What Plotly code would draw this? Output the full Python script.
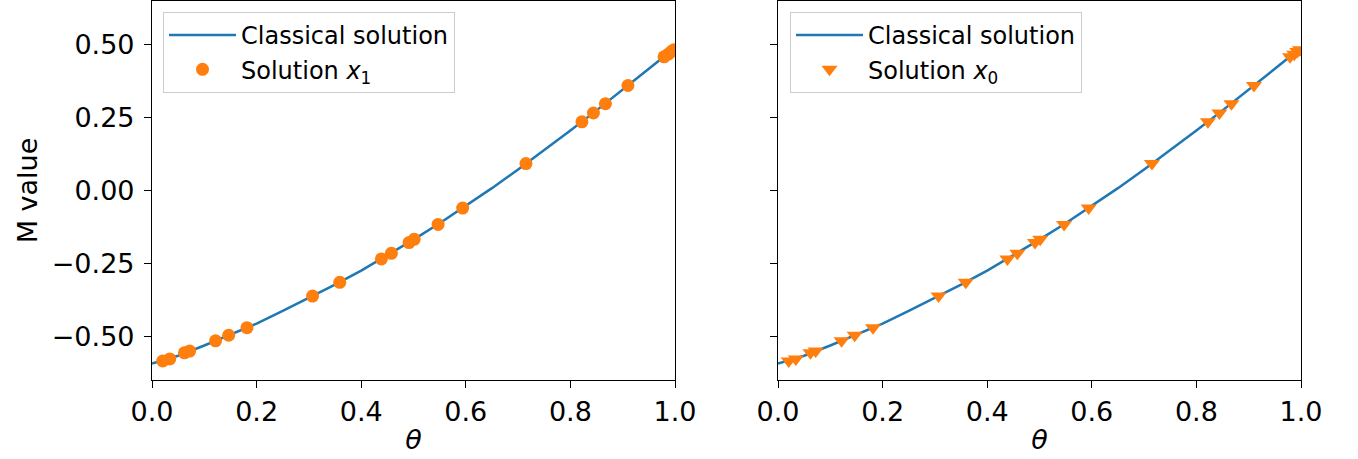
import plotly.graph_objects as go

# Classical solution curve
theta_curve = [0.00, 0.05, 0.10, 0.15, 0.20, 0.25, 0.30, 0.35, 0.40, 0.45, 0.50,
               0.55, 0.60, 0.65, 0.70, 0.75, 0.80, 0.85, 0.90, 0.95, 1.00]
m_curve = [-0.592, -0.565, -0.530, -0.492, -0.455, -0.412, -0.367, -0.322, -0.274,
           -0.222, -0.168, -0.112, -0.053, 0.008, 0.072, 0.137, 0.205, 0.274,
           0.344, 0.416, 0.488]

# Solution x1 (left panel)
theta_x1 = [0.0205, 0.034, 0.062, 0.072, 0.1215, 0.1466, 0.1816, 0.307, 0.359,
            0.4386, 0.4577, 0.4914, 0.5013, 0.547, 0.594, 0.715, 0.822, 0.844,
            0.867, 0.910, 0.979, 0.987, 0.993, 0.998]
m_x1 = [-0.583, -0.576, -0.555, -0.549, -0.514, -0.495, -0.469, -0.361, -0.314,
        -0.234, -0.215, -0.178, -0.167, -0.116, -0.060, 0.092, 0.235, 0.265,
        0.297, 0.359, 0.457, 0.466, 0.475, 0.481]

# Solution x0 (right panel)
theta_x0 = [0.0205, 0.034, 0.062, 0.072, 0.1215, 0.1466, 0.1816, 0.307, 0.359,
            0.4386, 0.4577, 0.4914, 0.5013, 0.547, 0.594, 0.715, 0.822, 0.844,
            0.867, 0.910, 0.979, 0.987, 0.993, 0.998]
m_x0 = [-0.583, -0.576, -0.555, -0.549, -0.514, -0.495, -0.469, -0.361, -0.314,
        -0.234, -0.215, -0.178, -0.167, -0.116, -0.060, 0.092, 0.235, 0.265,
        0.297, 0.359, 0.457, 0.466, 0.475, 0.481]

x_ticks = [0.0, 0.2, 0.4, 0.6, 0.8, 1.0]
x_ticklabels = ["0.0", "0.2", "0.4", "0.6", "0.8", "1.0"]
y_ticks = [-0.50, -0.25, 0.00, 0.25, 0.50]
y_ticklabels = ["\u22120.50", "\u22120.25", "0.00", "0.25", "0.50"]

BLUE = "#1f77b4"
ORANGE = "#ff7f0e"
FONT = "DejaVu Sans"
W, H = 1358, 459

fig = go.Figure()
fig.add_trace(go.Scatter(x=theta_curve, y=m_curve, mode="lines", name="Classical solution",
                         line=dict(color=BLUE, width=2.5), xaxis="x", yaxis="y", legend="legend"))
fig.add_trace(go.Scatter(x=theta_x1, y=m_x1, mode="markers", name="Solution <i>x</i><sub>1</sub>",
                         marker=dict(color=ORANGE, size=13, symbol="circle"),
                         xaxis="x", yaxis="y", legend="legend"))
fig.add_trace(go.Scatter(x=theta_curve, y=m_curve, mode="lines", name="Classical solution",
                         line=dict(color=BLUE, width=2.5), xaxis="x2", yaxis="y2", legend="legend2"))
fig.add_trace(go.Scatter(x=theta_x0, y=m_x0, mode="markers", name="Solution <i>x</i><sub>0</sub>",
                         marker=dict(color=ORANGE, size=14, symbol="triangle-down"),
                         xaxis="x2", yaxis="y2", legend="legend2"))

ydom = [1 - 380 / H, 1 - 1 / H]
axcommon = dict(showline=True, linecolor="black", linewidth=1.2, mirror=True,
                ticks="outside", ticklen=7, tickwidth=1.2, tickcolor="black",
                showgrid=False, zeroline=False, automargin=False,
                tickfont=dict(family=FONT, size=27, color="black"))

legcommon = dict(xref="paper", yref="paper", xanchor="left", yanchor="top",
                 bgcolor="rgba(255,255,255,0.8)", bordercolor="#cccccc", borderwidth=1,
                 font=dict(family=FONT, size=24, color="black"), tracegroupgap=0,
                 itemwidth=67)

fig.update_layout(
    width=W, height=H,
    margin=dict(l=0, r=0, t=0, b=0, autoexpand=False),
    paper_bgcolor="white", plot_bgcolor="white",
    font=dict(family=FONT, color="black"),
    xaxis=dict(domain=[152 / W, 675 / W], range=[0, 1], tickvals=x_ticks, ticktext=x_ticklabels,
               anchor="y", title=dict(text="<i>θ</i>", font=dict(family=FONT, size=27), standoff=4),
               **axcommon),
    yaxis=dict(domain=ydom, range=[-0.648, 0.648], tickvals=y_ticks, ticktext=y_ticklabels,
               anchor="x", ticklabelstandoff=4,
               title=dict(text="M value", font=dict(family=FONT, size=27), standoff=6),
               **axcommon),
    xaxis2=dict(domain=[778 / W, 1301 / W], range=[0, 1], tickvals=x_ticks, ticktext=x_ticklabels,
                anchor="y2", title=dict(text="<i>θ</i>", font=dict(family=FONT, size=27), standoff=4),
                **axcommon),
    yaxis2=dict(domain=ydom, range=[-0.648, 0.648], tickvals=y_ticks, ticktext=y_ticklabels,
                showticklabels=False, anchor="x2", matches="y", **axcommon),
    legend=dict(x=163 / W, y=1 - 12 / H, **legcommon),
    legend2=dict(x=790 / W, y=1 - 12 / H, **legcommon),
)

fig.write_html("out.html", config={"displayModeBar": False},
               post_script="document.body.style.margin='0';document.body.style.padding='0';")
